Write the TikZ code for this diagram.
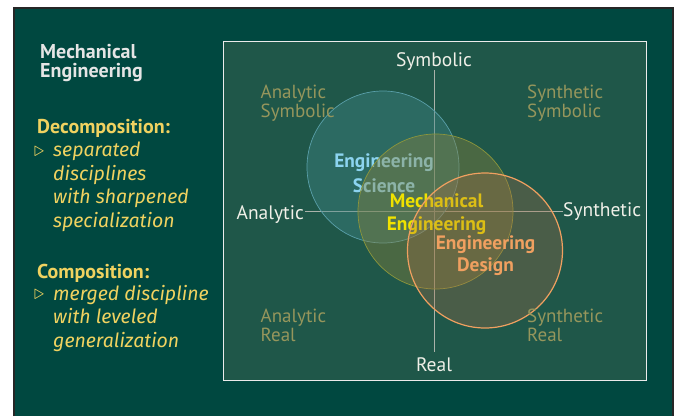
\documentclass[tikz,border=0pt]{standalone}
\usepackage{fontspec}
\setmainfont{PT Sans}
\newfontfamily\itfont{Fira Sans}
\definecolor{outerbg}{RGB}{0,72,64}
\definecolor{innerbg}{RGB}{31,87,73}
\definecolor{axisgray}{RGB}{170,178,170}
\definecolor{labelwhite}{RGB}{240,240,232}
\definecolor{khaki}{RGB}{150,150,92}
\definecolor{scblue}{RGB}{140,212,240}
\definecolor{meyellow}{RGB}{240,226,0}
\definecolor{edorange}{RGB}{240,160,96}
\definecolor{lefty}{RGB}{240,210,96}
\definecolor{bluefill}{RGB}{64,135,136}
\definecolor{blueedge}{RGB}{90,160,170}
\definecolor{olivefill}{RGB}{140,130,60}
\definecolor{oliveedge}{RGB}{140,150,60}
\definecolor{orangefill}{RGB}{174,110,70}
\tikzset{
  axislabel/.style={text=labelwhite,font=\fontsize{19.5}{20}\selectfont,inner sep=0pt},
  cornerlabel/.style={text=khaki,font=\fontsize{19}{19}\selectfont,align=left,inner sep=0pt,anchor=base west},
  circlelabel/.style={align=center,inner sep=0pt,anchor=base},
  lefttext/.style={align=left,inner sep=0pt,anchor=base west},
  italictext/.style={lefttext,text=lefty,font=\itfont\itshape\fontsize{19.5}{23.4}\selectfont},
  bullettext/.style={lefttext,text=lefty,font=\fontsize{22}{22}\selectfont},
  axis/.style={draw=axisgray,line width=0.8pt}
}
\begin{document}
\begin{tikzpicture}[x=1pt,y=-1pt]
\useasboundingbox (0,0) rectangle (675,416);
\fill[white] (0,0) rectangle (675,416);
\fill[outerbg] (14,8) rectangle (673,416);
\draw[black!85,line width=1.6pt] (14,416) -- (14,8) -- (673,8) -- (673,416);
% inner panel
\node[draw=white!92!black,fill=innerbg,line width=1.3pt,minimum width=423pt,minimum height=339pt,inner sep=0pt,anchor=north west] (panel) at (223,41) {};
% axes
\coordinate (vtop) at (434,70);
\coordinate (vbot) at (434,352);
\coordinate (hleft) at (305,211);
\coordinate (hright) at (563,211);
\draw[axis] (vtop) -- (vbot);
\draw[axis] (hleft) -- (hright);
% circles
\node[circle,minimum size=152pt,inner sep=0pt,draw=blueedge,fill=bluefill,fill opacity=0.4,line width=0.7pt] (sci) at (383,167) {};
\node[circlelabel,text=scblue,font=\bfseries\fontsize{19.4}{25}\selectfont] (scitext) at (384,192) {Engineering\\Science};
\node[circle,minimum size=155pt,inner sep=0pt,draw=oliveedge,fill=olivefill,fill opacity=0.4,line width=0.7pt] (mech) at (435.5,211.5) {};
\node[circlelabel,text=meyellow,font=\bfseries\fontsize{19.4}{23.7}\selectfont] (mechtext) at (436.6,230.7) {Mechanical\\Engineering};
\node[circle,minimum size=155pt,inner sep=0pt,draw=edorange,fill=orangefill,fill opacity=0.3,line width=1.2pt] (des) at (485,250.5) {};
\node[circlelabel,text=edorange,font=\bfseries\fontsize{19.4}{21.5}\selectfont] (destext) at (485.5,271) {Engineering\\Design};
% axis labels
\node[axislabel,anchor=base] (sym) at (434,66) {Symbolic};
\node[axislabel,anchor=base] (real) at (434,371.5) {Real};
\node[axislabel,anchor=base east] (ana) at (304,219) {Analytic};
\node[axislabel,anchor=base west] (syn) at (563,216) {Synthetic};
% corner labels
\node[cornerlabel] (as) at (260.5,117) {Analytic\\Symbolic};
\node[cornerlabel] (ss) at (527,117) {Synthetic\\Symbolic};
\node[cornerlabel] (ar) at (260.5,341.7) {Analytic\\Real};
\node[cornerlabel] (sr) at (527,341.7) {Synthetic\\Real};
% left text
\node[lefttext,text=white!90!black,font=\bfseries\fontsize{20}{19}\selectfont] (title) at (40,77) {Mechanical\\Engineering};
\node[lefttext,text=lefty,font=\bfseries\fontsize{20}{20}\selectfont] (dec) at (37,133) {Decomposition:};
\node[bullettext] (bul1) at (34,156) {$\triangleright$};
\node[italictext] (dectext) at (53,227) {separated\\disciplines\\with sharpened\\specialization};
\node[lefttext,text=lefty,font=\bfseries\fontsize{20}{20}\selectfont] (comp) at (37,278) {Composition:};
\node[bullettext] (bul2) at (34,299) {$\triangleright$};
\node[italictext] (comptext) at (53,347) {merged discipline\\with leveled\\generalization};
\end{tikzpicture}
\end{document}
